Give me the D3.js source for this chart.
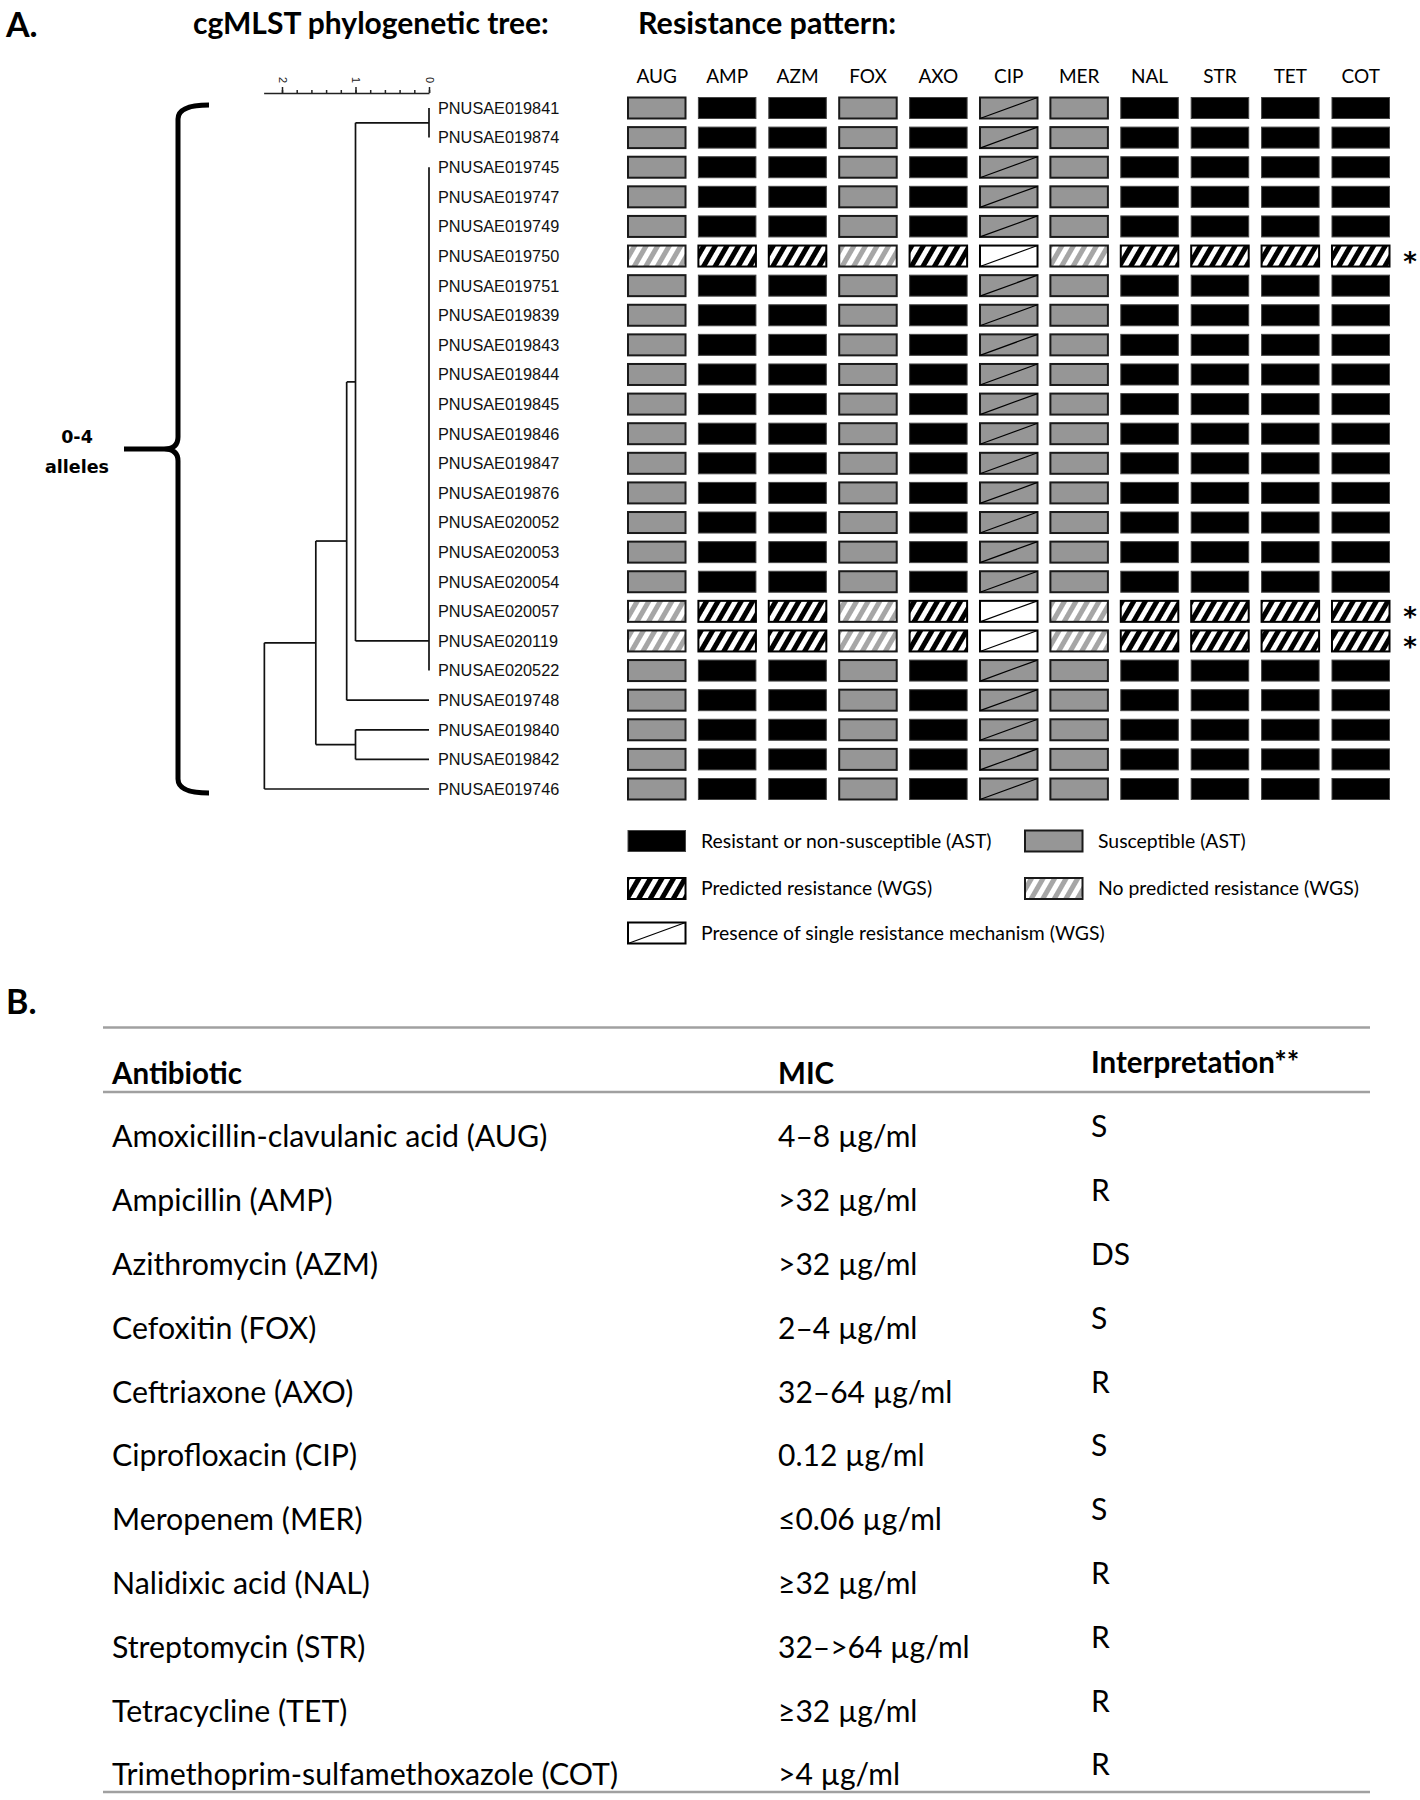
<!DOCTYPE html>
<html>
<head>
<meta charset="utf-8">
<script src="https://cdn.jsdelivr.net/npm/d3@7"></script>
<style>
  body { margin: 0; background: #fff; }
  text { font-family: Lato, "Open Sans", sans-serif; fill: #000; }
</style>
</head>
<body>
<script>

// ---- data ----
var isolates = [
  "PNUSAE019841", "PNUSAE019874", "PNUSAE019745", "PNUSAE019747", "PNUSAE019749",
  "PNUSAE019750", "PNUSAE019751", "PNUSAE019839", "PNUSAE019843", "PNUSAE019844",
  "PNUSAE019845", "PNUSAE019846", "PNUSAE019847", "PNUSAE019876", "PNUSAE020052",
  "PNUSAE020053", "PNUSAE020054", "PNUSAE020057", "PNUSAE020119", "PNUSAE020522",
  "PNUSAE019748", "PNUSAE019840", "PNUSAE019842", "PNUSAE019746"
];

var drugs = ["AUG", "AMP", "AZM", "FOX", "AXO", "CIP", "MER", "NAL", "STR", "TET", "COT"];

// R = resistant (AST), S = susceptible (AST), Sm = susceptible + single mechanism,
// P = predicted resistance (WGS), N = no predicted resistance (WGS), M = single mechanism (WGS)
var patterns = [
  "S R R S R Sm S R R R R",
  "S R R S R Sm S R R R R",
  "S R R S R Sm S R R R R",
  "S R R S R Sm S R R R R",
  "S R R S R Sm S R R R R",
  "N P P N P M N P P P P",
  "S R R S R Sm S R R R R",
  "S R R S R Sm S R R R R",
  "S R R S R Sm S R R R R",
  "S R R S R Sm S R R R R",
  "S R R S R Sm S R R R R",
  "S R R S R Sm S R R R R",
  "S R R S R Sm S R R R R",
  "S R R S R Sm S R R R R",
  "S R R S R Sm S R R R R",
  "S R R S R Sm S R R R R",
  "S R R S R Sm S R R R R",
  "N P P N P M N P P P P",
  "N P P N P M N P P P P",
  "S R R S R Sm S R R R R",
  "S R R S R Sm S R R R R",
  "S R R S R Sm S R R R R",
  "S R R S R Sm S R R R R",
  "S R R S R Sm S R R R R"
];

var flagged = ["PNUSAE019750", "PNUSAE020057", "PNUSAE020119"];

// node heights in allele distance (h), leaves at 0
var tree = {h: 2.24, children: [
  {h: 1.54, children: [
    {h: 1.12, children: [
      {h: 1.0, children: [
        {h: 0, children: [{name: "PNUSAE019841"}, {name: "PNUSAE019874"}]},
        {h: 0, anchor: "PNUSAE020119", children: [
          {name: "PNUSAE019745"}, {name: "PNUSAE019747"}, {name: "PNUSAE019749"},
          {name: "PNUSAE019750"}, {name: "PNUSAE019751"}, {name: "PNUSAE019839"},
          {name: "PNUSAE019843"}, {name: "PNUSAE019844"}, {name: "PNUSAE019845"},
          {name: "PNUSAE019846"}, {name: "PNUSAE019847"}, {name: "PNUSAE019876"},
          {name: "PNUSAE020052"}, {name: "PNUSAE020053"}, {name: "PNUSAE020054"},
          {name: "PNUSAE020057"}, {name: "PNUSAE020119"}, {name: "PNUSAE020522"}
        ]}
      ]},
      {name: "PNUSAE019748"}
    ]},
    {h: 1.0, children: [{name: "PNUSAE019840"}, {name: "PNUSAE019842"}]}
  ]},
  {name: "PNUSAE019746"}
]};

var legendItems = [
  {code: "R", label: "Resistant or non-susceptible (AST)"},
  {code: "S", label: "Susceptible (AST)"},
  {code: "P", label: "Predicted resistance (WGS)"},
  {code: "N", label: "No predicted resistance (WGS)"},
  {code: "M", label: "Presence of single resistance mechanism (WGS)"}
];

var antibiotics = [
  "Amoxicillin-clavulanic acid (AUG)", "Ampicillin (AMP)", "Azithromycin (AZM)",
  "Cefoxitin (FOX)", "Ceftriaxone (AXO)", "Ciprofloxacin (CIP)", "Meropenem (MER)",
  "Nalidixic acid (NAL)", "Streptomycin (STR)", "Tetracycline (TET)",
  "Trimethoprim-sulfamethoxazole (COT)"
];
var mics = [
  "4–8 µg/ml", ">32 µg/ml", ">32 µg/ml", "2–4 µg/ml", "32–64 µg/ml", "0.12 µg/ml",
  "≤0.06 µg/ml", "≥32 µg/ml", "32–>64 µg/ml", "≥32 µg/ml", ">4 µg/ml"
];
var interpretations = ["S", "R", "DS", "S", "R", "S", "S", "R", "R", "R", "R"];

// ---- setup ----
var width = 1420;
var height = 1800;

var svg = d3.select("body")
  .append("svg")
  .attr("width", width)
  .attr("height", height);

var defs = svg.append("defs");

function hatch(id, color) {
  var p = defs.append("pattern")
    .attr("id", id)
    .attr("patternUnits", "userSpaceOnUse")
    .attr("width", 10)
    .attr("height", 10)
    .attr("patternTransform", "rotate(30)");
  p.append("rect").attr("width", 10).attr("height", 10).attr("fill", "#fff");
  p.append("rect").attr("width", 5).attr("height", 10).attr("fill", color);
}
hatch("hatchBlack", "#000");
hatch("hatchGray", "#a6a6a6");

var cellStyle = {
  R:  {fill: "#000", stroke: "#444", sw: 1, diag: false},
  S:  {fill: "#969696", stroke: "#1a1a1a", sw: 2, diag: false},
  Sm: {fill: "#969696", stroke: "#1a1a1a", sw: 2, diag: true},
  P:  {fill: "url(#hatchBlack)", stroke: "#000", sw: 2, diag: false},
  N:  {fill: "url(#hatchGray)", stroke: "#1a1a1a", sw: 2, diag: false},
  M:  {fill: "#fff", stroke: "#000", sw: 2, diag: true}
};

// ---- titles ----
svg.append("text").attr("x", 6).attr("y", 37)
  .attr("font-size", 34).attr("font-weight", "bold").text("A.");
svg.append("text").attr("x", 193).attr("y", 34)
  .attr("font-size", 30).attr("font-weight", "bold").text("cgMLST phylogenetic tree:");
svg.append("text").attr("x", 638).attr("y", 34)
  .attr("font-size", 30.5).attr("font-weight", "bold").text("Resistance pattern:");

// ---- scales ----
var y = d3.scalePoint().domain(isolates).range([108, 789]);
var xDist = d3.scaleLinear().domain([0, 2]).range([429, 282]);
var col = d3.scaleBand().domain(drugs).range([628, 1389.5])
  .paddingInner(0.183).paddingOuter(0);
var cellH = 21;

// ---- tree ----
var root = d3.hierarchy(tree);
root.eachAfter(function(d) {
  if (!d.children) {
    d.py = y(d.data.name);
  } else if (d.data.anchor) {
    d.py = y(d.data.anchor);
  } else {
    d.py = (d.children[0].py + d.children[d.children.length - 1].py) / 2;
  }
  d.px = xDist(d.data.h || 0);
});

var gTree = svg.append("g")
  .attr("stroke", "#111")
  .attr("stroke-width", 1.7)
  .attr("fill", "none");

root.descendants().filter(function(d) { return d.children; }).forEach(function(d) {
  var first = d.children[0], last = d.children[d.children.length - 1];
  gTree.append("line")
    .attr("x1", d.px).attr("x2", d.px)
    .attr("y1", first.py).attr("y2", last.py);
  d.children.forEach(function(c) {
    if (c.px !== d.px) {
      gTree.append("line")
        .attr("x1", d.px).attr("x2", c.px)
        .attr("y1", c.py).attr("y2", c.py);
    }
  });
});

svg.append("g").selectAll("text")
  .data(isolates)
  .enter().append("text")
  .attr("x", xDist(0) + 9)
  .attr("y", function(d) { return y(d); })
  .attr("dy", "0.36em")
  .style("font-family", "'Liberation Sans', Arial, sans-serif")
  .style("fill", "#111")
  .attr("font-size", 16.3)
  .text(function(d) { return d; });

// scale bar
var barScale = d3.scaleLinear().domain([0, 2.25]).range([xDist(0), xDist(2.25)]);
var gBar = svg.append("g").attr("transform", "translate(0,93)");
gBar.call(d3.axisTop(barScale)
  .tickValues(d3.range(0, 11).map(function(i) { return i * 0.2; }))
  .tickSize(3).tickSizeOuter(0).tickFormat(""));
var gMajor = svg.append("g").attr("transform", "translate(0,93)");
gMajor.call(d3.axisTop(barScale).tickValues([0, 1, 2]).tickSize(6).tickSizeOuter(0)
  .tickFormat(d3.format("d")));
gMajor.select(".domain").remove();
gMajor.selectAll("text")
  .attr("transform", "rotate(90)")
  .attr("x", -13).attr("y", 0).attr("dy", "0.35em")
  .style("text-anchor", "middle")
  .style("font-family", "'Liberation Sans', Arial, sans-serif")
  .style("fill", "#222")
  .attr("font-size", 11);
svg.selectAll(".tick line, .domain").attr("stroke", "#222").attr("stroke-width", 1.5);

// brace
var bTop = y(isolates[0]) - 3, bBot = y(isolates[isolates.length - 1]) + 4;
var bMid = (bTop + bBot) / 2;
var bx = 178;
svg.append("path")
  .attr("d", "M" + (bx + 31) + "," + bTop + " Q" + bx + "," + bTop + " " + bx + "," + (bTop + 14) +
    " L" + bx + "," + (bMid - 12) + " Q" + bx + "," + bMid + " " + (bx - 14) + "," + bMid +
    " L" + (bx - 54) + "," + bMid +
    " M" + (bx - 14) + "," + bMid + " Q" + bx + "," + bMid + " " + bx + "," + (bMid + 12) +
    " L" + bx + "," + (bBot - 14) + " Q" + bx + "," + bBot + " " + (bx + 31) + "," + bBot)
  .attr("fill", "none")
  .attr("stroke", "#000")
  .attr("stroke-width", 5);

svg.append("text").attr("x", 77).attr("y", bMid - 6)
  .style("font-family", "'DejaVu Sans', sans-serif")
  .attr("font-size", 17.5).attr("font-weight", "bold")
  .attr("text-anchor", "middle").text("0-4");
svg.append("text").attr("x", 77).attr("y", bMid + 24)
  .style("font-family", "'DejaVu Sans', sans-serif")
  .attr("font-size", 17.5).attr("font-weight", "bold")
  .attr("text-anchor", "middle").text("alleles");

// ---- resistance matrix ----
svg.append("g").selectAll("text")
  .data(drugs)
  .enter().append("text")
  .attr("x", function(d) { return col(d) + col.bandwidth() / 2; })
  .attr("y", 83)
  .attr("text-anchor", "middle")
  .attr("font-size", 19)
  .text(function(d) { return d; });

function drawCell(g, code, x0, y0, w, h) {
  var s = cellStyle[code];
  g.append("rect")
    .attr("x", x0).attr("y", y0)
    .attr("width", w).attr("height", h)
    .attr("fill", s.fill)
    .attr("stroke", s.stroke)
    .attr("stroke-width", s.sw);
  if (s.diag) {
    g.append("line")
      .attr("x1", x0).attr("y1", y0 + h)
      .attr("x2", x0 + w).attr("y2", y0)
      .attr("stroke", "#000").attr("stroke-width", 1.2);
  }
}

var gCells = svg.append("g");
isolates.forEach(function(iso, i) {
  var codes = patterns[i].split(" ");
  drugs.forEach(function(dr, j) {
    drawCell(gCells, codes[j], col(dr), y(iso) - cellH / 2, col.bandwidth(), cellH);
  });
});

svg.append("g").selectAll("text")
  .data(flagged)
  .enter().append("text")
  .attr("x", 1410)
  .attr("y", function(d) { return y(d) + 15; })
  .attr("text-anchor", "middle")
  .style("font-family", "'DejaVu Sans', sans-serif")
  .attr("font-size", 26)
  .attr("font-weight", "bold")
  .text("*");

// ---- legend ----
var legendX = [628, 1025];
var legendY = [841, 888.5, 933];
var gLeg = svg.append("g");
legendItems.forEach(function(d, i) {
  var lx = legendX[i % 2], ly = legendY[Math.floor(i / 2)];
  drawCell(gLeg, d.code, lx, ly - cellH / 2, col.bandwidth(), cellH);
  gLeg.append("text")
    .attr("x", lx + 73)
    .attr("y", ly)
    .attr("dy", "0.35em")
    .attr("font-size", 19.4)
    .text(d.label);
});

// ---- table B ----
svg.append("text").attr("x", 6).attr("y", 1014)
  .attr("font-size", 34).attr("font-weight", "bold").text("B.");

var tRow = d3.scalePoint().domain(antibiotics).range([1136.5, 1774.5]);
var tCol = [112, 778, 1091];
var ruleColor = "#a0a0a0";

[1027.5, 1092, 1792].forEach(function(ry) {
  svg.append("line")
    .attr("x1", 103).attr("x2", 1370)
    .attr("y1", ry).attr("y2", ry)
    .attr("stroke", ruleColor).attr("stroke-width", 2.5);
});

svg.append("text").attr("x", tCol[0]).attr("y", 1084)
  .attr("font-size", 29.5).attr("font-weight", "bold").text("Antibiotic");
svg.append("text").attr("x", tCol[1]).attr("y", 1084)
  .attr("font-size", 29.5).attr("font-weight", "bold").text("MIC");
svg.append("text").attr("x", tCol[2]).attr("y", 1073)
  .attr("font-size", 29.5).attr("font-weight", "bold").text("Interpretation**");

var gRows = svg.append("g");
antibiotics.forEach(function(a, i) {
  var ry = tRow(a);
  gRows.append("text").attr("x", tCol[0]).attr("y", ry).attr("dy", "0.36em")
    .attr("font-size", 30.3).text(a);
  gRows.append("text").attr("x", tCol[1]).attr("y", ry).attr("dy", "0.36em")
    .attr("font-size", 30).text(mics[i]);
  gRows.append("text").attr("x", tCol[2]).attr("y", ry - 10).attr("dy", "0.36em")
    .attr("font-size", 30).text(interpretations[i]);
});

</script>
</body>
</html>
